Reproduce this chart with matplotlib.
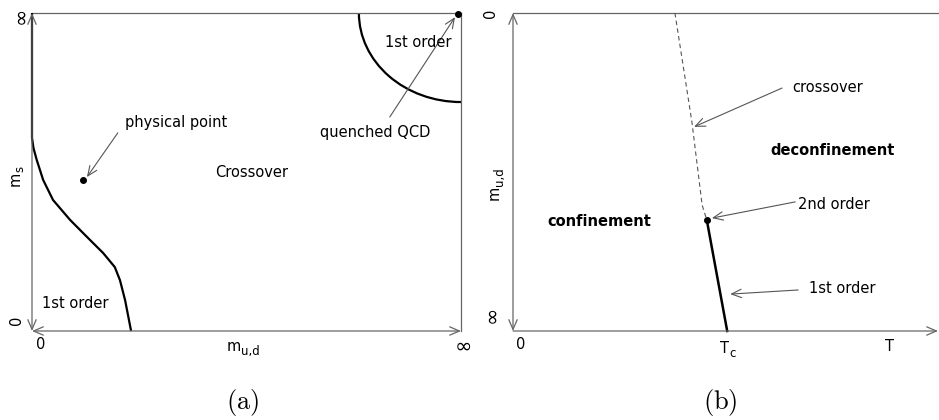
import matplotlib
matplotlib.use("Agg")
import matplotlib.pyplot as plt
from matplotlib.patches import Arc

plt.rcParams['font.family'] = ['DejaVu Sans']
plt.rcParams['mathtext.fontset'] = 'cm'

# ---- panel (a): Columbia plot, m_ud horizontal (0..inf), m_s vertical (0..inf)
boundary_x = [0.0, 0.0, 0.0035, 0.011, 0.026, 0.049, 0.089, 0.128, 0.166, 0.193, 0.205, 0.217, 0.231]
boundary_y = [1.0, 0.607, 0.575, 0.538, 0.475, 0.412, 0.349, 0.296, 0.245, 0.201, 0.160, 0.097, 0.0]
physical_point = (0.119, 0.475)
quenched_point = (0.993, 0.997)
quenched_radius = (0.238, 0.280)   # half-axes of the heavy-quark first-order region

# ---- panel (b): T horizontal, m_ud vertical (0 at top, inf at bottom)
crossover_T = [0.381, 0.421, 0.445, 0.456]
crossover_m = [0.0, 0.343, 0.604, 0.651]
first_order_T = [0.456, 0.504]
first_order_m = [0.651, 1.0]
critical_point = (0.456, 0.651)

TXT = 10.5
SUB = 8.5
INF = 15
AX = '#666666'
ARR = '#555555'
HEAD = '->,head_length=0.7,head_width=0.3'
BOTH = '<->,head_length=0.7,head_width=0.3'

W, H = 939, 420
fig = plt.figure(figsize=(W / 100, H / 100), dpi=100)

def px_axes(x0, y0, x1, y1):
    return fig.add_axes([x0 / W, 1 - y1 / H, (x1 - x0) / W, (y1 - y0) / H])

def pointer(ax, tail, head, style=HEAD, color=ARR, lw=0.8):
    ax.annotate('', xy=head, xytext=tail, annotation_clip=False,
                arrowprops=dict(arrowstyle=style, color=color, lw=lw,
                                shrinkA=0, shrinkB=0))

def subscripted(ax, x, y, base, sub, vertical=False):
    """Draw base text with a subscript; (x, y) is the join point on the baseline."""
    rot = 90 if vertical else 0
    ax.annotate(base, (x, y), fontsize=TXT, rotation=rot, rotation_mode='anchor',
                ha='right', va='baseline', annotation_clip=False)
    off = (3, 0) if vertical else (0, -3)
    ax.annotate(sub, (x, y), xytext=off, textcoords='offset points', fontsize=SUB,
                rotation=rot, rotation_mode='anchor', ha='left', va='baseline',
                annotation_clip=False)

# ================= (a) =================
a = px_axes(32, 13, 461, 331)
a.set_xlim(0, 1)
a.set_ylim(0, 1)
a.axis('off')

# frame
a.plot([0, 1], [1, 1], color=AX, lw=0.9, clip_on=False)
a.plot([1, 1], [0, 1], color=AX, lw=0.9, clip_on=False)
pointer(a, (0, 0), (1, 0), style=BOTH, color=AX, lw=0.9)
pointer(a, (0, 0), (0, 1), style=BOTH, color=AX, lw=0.9)

# phase boundaries
a.plot(boundary_x, boundary_y, color='black', lw=1.6, clip_on=False, solid_capstyle='butt')
a.add_patch(Arc((1, 1), 2 * quenched_radius[0], 2 * quenched_radius[1],
                theta1=180, theta2=270, color='black', lw=1.6))
a.plot(*physical_point, 'o', color='black', ms=4, clip_on=False)
a.plot(*quenched_point, 'o', color='black', ms=4, clip_on=False)

pointer(a, (0.200, 0.623), (0.128, 0.484))
pointer(a, (0.834, 0.673), (0.986, 0.987))

a.text(0.217, 0.657, 'physical point', fontsize=TXT, ha='left', va='center')
a.text(0.800, 0.623, 'quenched QCD', fontsize=TXT, ha='center', va='center')
a.text(0.901, 0.906, '1st order', fontsize=TXT, ha='center', va='center')
a.text(0.512, 0.497, 'Crossover', fontsize=TXT, ha='center', va='center')
a.text(0.101, 0.088, '1st order', fontsize=TXT, ha='center', va='center')

subscripted(a, -0.030, 0.50, 'm', 's', vertical=True)
a.text(-0.028, 0.993, '∞', fontsize=INF, rotation=90, ha='center', va='center')
a.text(-0.037, 0.035, '0', fontsize=TXT, rotation=90, ha='center', va='center')
a.text(0.021, -0.044, '0', fontsize=TXT, ha='center', va='center')
subscripted(a, 0.488, -0.062, 'm', 'u,d')
a.text(1.005, -0.05, '∞', fontsize=INF, ha='center', va='center')
a.text(0.49, -0.226, r'$\mathrm{(a)}$', fontsize=19, ha='center', va='center')

# ================= (b) =================
b = px_axes(513, 13, 938, 331)
b.set_xlim(0, 1)
b.set_ylim(1, 0)
b.axis('off')

b.plot([0, 1], [0, 0], color=AX, lw=0.9, clip_on=False)
pointer(b, (0, 1), (1, 1), color=AX, lw=0.9)
pointer(b, (0, 0), (0, 1), style=BOTH, color=AX, lw=0.9)

b.plot(crossover_T, crossover_m, color='#555555', lw=0.8, ls=(0, (4, 3)), clip_on=False)
b.plot(first_order_T, first_order_m, color='black', lw=1.8, clip_on=False)
b.plot(*critical_point, 'o', color='black', ms=4, clip_on=False)

pointer(b, (0.633, 0.236), (0.426, 0.358))
pointer(b, (0.664, 0.594), (0.468, 0.645))
pointer(b, (0.671, 0.871), (0.511, 0.884))

b.text(0.656, 0.233, 'crossover', fontsize=TXT, ha='left', va='center')
b.text(0.751, 0.431, 'deconfinement', fontsize=TXT, fontweight='bold', ha='center', va='center')
b.text(0.671, 0.601, '2nd order', fontsize=TXT, ha='left', va='center')
b.text(0.774, 0.865, '1st order', fontsize=TXT, ha='center', va='center')
b.text(0.204, 0.657, 'confinement', fontsize=TXT, fontweight='bold', ha='center', va='center')

b.text(-0.054, 0.0, '0', fontsize=TXT, rotation=90, ha='center', va='center')
b.text(-0.052, 0.948, '∞', fontsize=INF, rotation=90, ha='center', va='center')
subscripted(b, -0.033, 0.544, 'm', 'u,d', vertical=True)
b.text(0.019, 1.044, '0', fontsize=TXT, ha='center', va='center')
subscripted(b, 0.509, 1.07, 'T', 'c')
b.text(0.885, 1.05, 'T', fontsize=TXT, ha='center', va='center')
b.text(0.487, 1.226, r'$\mathrm{(b)}$', fontsize=19, ha='center', va='center')

fig.savefig('out.png', dpi=100)
